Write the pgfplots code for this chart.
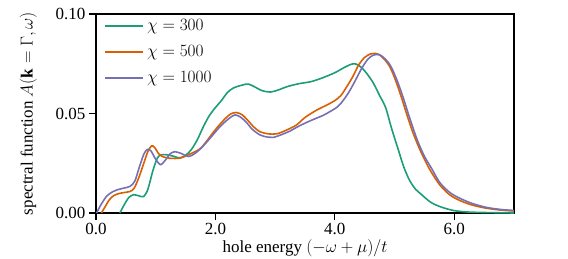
\documentclass[border=0pt]{standalone}
\usepackage{fontspec}
\setmainfont{Liberation Serif}
\usepackage{pgfplots}
\pgfplotsset{compat=1.18}
\definecolor{cg}{HTML}{1B9E77}
\definecolor{co}{HTML}{D95F02}
\definecolor{cp}{HTML}{7570B3}
\newcommand\ff{\fontsize{17}{20}\selectfont}
\begin{document}
\begin{tikzpicture}
\useasboundingbox (-96pt,-45pt) rectangle (472pt,213pt);
\begin{axis}[
  at={(0pt,0pt)}, anchor=south west,
  scale only axis, width=418pt, height=199pt,
  xmin=0, xmax=7, ymin=0, ymax=0.1,
  xtick={0,2,4,6}, ytick={0,0.05,0.1},
  scaled y ticks=false,
  xtick pos=bottom, ytick pos=left, tick align=outside,
  major tick length=7pt,
  every tick/.style={black, line width=1.2pt},
  axis line style={line width=1.3pt},
  /pgf/number format/assume math mode=true,
  xticklabel style={font=\ff, /pgf/number format/.cd, fixed, fixed zerofill, precision=1},
  yticklabel style={font=\ff, /pgf/number format/.cd, fixed, fixed zerofill, precision=2},
  xlabel={\ff hole energy $(-\omega+\mu)/t$},
  ylabel={\ff spectral function $A(\mathbf{k}=\Gamma,\omega)$},
  xlabel style={at={(axis description cs:0.5,-0.13)}, anchor=north, inner sep=0pt},
  ylabel style={at={(axis description cs:-0.141,0.5)}, anchor=south, inner sep=0pt},
  legend cell align=left,
  legend style={draw=none, fill=none, inner sep=0pt, at={(axis description cs:0.02,0.995)}, anchor=north west, row sep=4pt, column sep=0pt,
    nodes={inner xsep=3pt, inner ysep=3pt, text height=12pt, text depth=4pt}},
  legend image code/.code={\draw[#1, line width=1.6pt] (0pt,0pt) -- (38pt,0pt);},
]
\addplot[cg, line width=1.6pt, smooth, tension=0.5] coordinates {
(0.40,0.0) (0.47,0.004) (0.55,0.0078) (0.63,0.0092) (0.72,0.0086) (0.80,0.0083) (0.87,0.012) (0.95,0.021) (1.03,0.0278) (1.10,0.0293) (1.20,0.0292) (1.30,0.0285) (1.40,0.0277) (1.50,0.0290) (1.60,0.032) (1.70,0.037) (1.80,0.0435) (1.90,0.049) (2.00,0.053) (2.10,0.0565) (2.20,0.0605) (2.30,0.0628) (2.45,0.0643) (2.55,0.0648) (2.65,0.0635) (2.78,0.0615) (2.92,0.0608) (3.05,0.0618) (3.2,0.0635) (3.4,0.065) (3.6,0.066) (3.8,0.068) (4.0,0.0705) (4.15,0.073) (4.28,0.0748) (4.36,0.0748) (4.45,0.073) (4.55,0.0695) (4.65,0.065) (4.75,0.059) (4.85,0.053) (4.95,0.0425) (5.05,0.033) (5.15,0.0235) (5.25,0.0165) (5.35,0.012) (5.45,0.0093) (5.6,0.0055) (5.76,0.0032) (6.0,0.0012) (6.3,0.0004) (7.0,0.0)
};
\addlegendentry{\ff $\chi = 300$}
\addplot[co, line width=1.6pt, smooth, tension=0.5] coordinates {
(0.09,0) (0.15,0.003) (0.22,0.0065) (0.30,0.0088) (0.40,0.0099) (0.50,0.0104) (0.57,0.0108) (0.64,0.0125) (0.72,0.018) (0.80,0.025) (0.87,0.031) (0.93,0.0337) (0.98,0.033) (1.05,0.0298) (1.12,0.0283) (1.24,0.0275) (1.41,0.0276) (1.57,0.0296) (1.74,0.0322) (1.85,0.036) (1.95,0.040) (2.05,0.0437) (2.15,0.047) (2.25,0.0497) (2.35,0.0505) (2.45,0.0493) (2.55,0.0463) (2.65,0.0430) (2.75,0.0408) (2.88,0.0398) (3.03,0.0398) (3.2,0.0418) (3.36,0.0443) (3.5,0.048) (3.70,0.0518) (3.85,0.054) (4.0,0.0565) (4.1,0.059) (4.2,0.0635) (4.3,0.0685) (4.4,0.0745) (4.5,0.0782) (4.6,0.0800) (4.67,0.0802) (4.75,0.0795) (4.85,0.0765) (4.92,0.0735) (5.0,0.068) (5.1,0.0595) (5.2,0.050) (5.3,0.041) (5.4,0.0335) (5.5,0.027) (5.6,0.0213) (5.76,0.014) (5.93,0.009) (6.10,0.0062) (6.3,0.0040) (6.54,0.0024) (6.8,0.0014) (7.0,0.0010)
};
\addlegendentry{\ff $\chi = 500$}
\addplot[cp, line width=1.6pt, smooth, tension=0.5] coordinates {
(0.01,0) (0.08,0.004) (0.18,0.0085) (0.28,0.0107) (0.35,0.0116) (0.45,0.0124) (0.57,0.0134) (0.65,0.016) (0.72,0.0225) (0.80,0.0295) (0.86,0.032) (0.92,0.0312) (1.00,0.027) (1.08,0.0243) (1.16,0.0265) (1.24,0.0297) (1.32,0.0308) (1.42,0.0300) (1.55,0.0284) (1.65,0.0298) (1.74,0.032) (1.85,0.0355) (1.95,0.039) (2.05,0.0425) (2.15,0.0455) (2.25,0.048) (2.33,0.0493) (2.42,0.0482) (2.52,0.0455) (2.62,0.042) (2.75,0.0392) (2.88,0.0381) (2.97,0.0380) (3.1,0.0393) (3.25,0.0412) (3.4,0.0437) (3.6,0.0465) (3.8,0.049) (3.92,0.051) (4.05,0.0535) (4.15,0.057) (4.25,0.0615) (4.35,0.067) (4.45,0.0727) (4.55,0.0772) (4.64,0.0793) (4.70,0.0797) (4.78,0.079) (4.88,0.0762) (4.95,0.073) (5.05,0.066) (5.15,0.0575) (5.25,0.048) (5.38,0.0367) (5.5,0.0285) (5.62,0.0224) (5.76,0.0152) (5.93,0.0102) (6.10,0.0073) (6.3,0.0048) (6.54,0.0028) (6.8,0.0017) (7.0,0.0013)
};
\addlegendentry{\ff $\chi = 1000$}
\end{axis}
\end{tikzpicture}
\end{document}
